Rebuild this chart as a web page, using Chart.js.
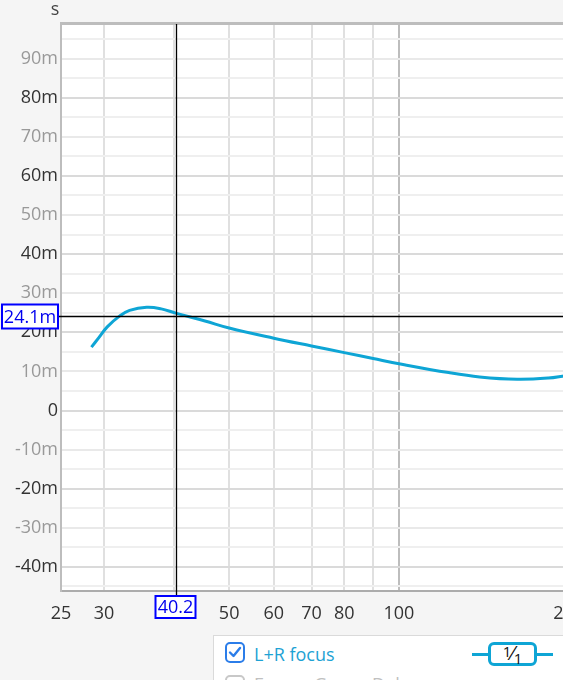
<!DOCTYPE html>
<html>
<head>
<meta charset="utf-8">
<script src="https://cdn.jsdelivr.net/npm/chart.js@4/dist/chart.umd.min.js"></script>
<style>
  html, body { margin:0; padding:0; background:#f5f5f5; overflow:hidden; width:563px; height:680px; }
  #wrap { position:absolute; left:0; top:0; width:620px; height:680px; }
  canvas { display:block; }
  .ui { position:absolute; font-family:"Open Sans","Noto Sans",sans-serif; font-size:18px; }
  #panel { left:213px; top:635px; width:420px; height:70px; background:#fff; border:1px solid #dadada; box-sizing:border-box; }
  .cb { position:absolute; width:20px; height:21px; border:2px solid #2b7de9; border-radius:5px; box-sizing:border-box; background:#fff; }
  .cb svg { position:absolute; left:1px; top:1px; }
  #badge { left:488px; top:642px; width:49px; height:24px; border:3px solid #0ea5d5; border-radius:6px; box-sizing:border-box; background:#fff; color:#111; text-align:center; line-height:16px; font-size:16px; }
  #badgeLine { left:472px; top:653px; width:81px; height:3px; background:#0ea5d5; }
</style>
</head>
<body>
<div id="wrap"><canvas id="c" width="620" height="680"></canvas></div>
<div class="ui" id="panel"></div>
<div class="cb ui" style="left:225px; top:642px;">
  <svg width="14" height="15" viewBox="0 0 14 15"><path d="M2 7.5 L5.5 11 L12 3" stroke="#2b7de9" stroke-width="2.4" fill="none" stroke-linecap="round" stroke-linejoin="round"/></svg>
</div>
<div class="ui" style="left:254px; top:641px; color:#1ea2d4; line-height:26px;">L+R focus</div>
<div class="cb ui" style="left:225px; top:675px; border-color:#c8c8c8;"></div>
<div class="ui" style="left:254px; top:671px; color:#c0c0c0; line-height:26px;">Excess Group Delay</div>
<div class="ui" id="badgeLine"></div>
<div class="ui" id="badge"><span style="position:relative; top:-3px; font-size:15px;">1</span><span style="font-size:20px;">⁄</span><span style="position:relative; top:4px; font-size:15px;">1</span></div>
<script>
// ---- data ----
const freqs  = [28.5, 29.4, 30.4, 32.0, 33.3, 35.7, 37.9, 40.2, 45.3, 50, 60, 70, 80, 90, 100.6, 122.5, 139, 162, 184, 197];
const delays = [16.2, 18.7, 21.4, 24.2, 25.6, 26.4, 26.0, 24.9, 22.9, 21.1, 18.5, 16.5, 14.8, 13.3, 11.9, 9.7, 8.6, 8.0, 8.3, 8.9];
const xTickValues = [25.17, 30, 40, 50, 60, 70, 80, 90, 100, 200];
const xTickLabels = ['25', '30', '', '50', '60', '70', '80', '', '100', '200'];
const yTickValues = [-45, -40, -35, -30, -25, -20, -15, -10, -5, 0, 5, 10, 15, 20, 25, 30, 35, 40, 45, 50, 55, 60, 65, 70, 75, 80, 85, 90, 95];
const yTickLabels = ['', '-40m', '', '-30m', '', '-20m', '', '-10m', '', '0', '', '10m', '', '20m', '', '30m', '', '40m', '', '50m', '', '60m', '', '70m', '', '80m', '', '90m', ''];
const cursorX = 40.2, cursorY = 24.1;
const cursorXLabel = '40.2', cursorYLabel = '24.1m';
const axisUnit = 's';

const FONT = '"Open Sans","Noto Sans",sans-serif';
const CURVE = '#0ea5d5';

const framePlugin = {
  id: 'frame',
  beforeDraw(chart) {
    const { ctx, chartArea: a } = chart;
    ctx.save();
    ctx.fillStyle = '#ffffff';
    ctx.fillRect(a.left, a.top, a.right - a.left, a.bottom - a.top);
    ctx.restore();
  },
  afterDraw(chart) {
    const { ctx, chartArea: a, scales } = chart;
    const xs = scales.x, ys = scales.y;
    ctx.save();
    ctx.fillStyle = '#bdbdbd';
    ctx.fillRect(a.left - 1, a.top - 2, chart.width, 3);
    ctx.fillStyle = '#444';
    ctx.font = '18px ' + FONT;
    ctx.textAlign = 'center';
    ctx.textBaseline = 'middle';
    ctx.fillText(axisUnit, 55, 10);
    const px = Math.round(xs.getPixelForValue(cursorX)) + 0.5;
    const py = Math.round(ys.getPixelForValue(cursorY)) + 0.5;
    ctx.strokeStyle = '#000';
    ctx.lineWidth = 1.3;
    ctx.beginPath();
    ctx.moveTo(px, a.top); ctx.lineTo(px, a.bottom + 5);
    ctx.moveTo(58, py); ctx.lineTo(a.right, py);
    ctx.stroke();
    ctx.font = '18px ' + FONT;
    ctx.lineWidth = 2;
    ctx.strokeStyle = '#0000ff';
    ctx.fillStyle = '#fff';
    ctx.fillRect(2, py - 12, 56, 24);
    ctx.strokeRect(2, py - 12, 56, 24);
    ctx.fillStyle = '#0000ee';
    ctx.textAlign = 'center';
    ctx.fillText(cursorYLabel, 30, py + 1);
    ctx.fillStyle = '#fff';
    ctx.fillRect(px - 21, a.bottom + 5, 40, 22);
    ctx.strokeRect(px - 21, a.bottom + 5, 40, 22);
    ctx.fillStyle = '#0000ee';
    ctx.fillText(cursorXLabel, px - 1, a.bottom + 17);
    ctx.restore();
  }
};

new Chart(document.getElementById('c'), {
  type: 'line',
  data: {
    datasets: [{
      data: freqs.map((f, i) => ({ x: f, y: delays[i] })),
      borderColor: CURVE,
      borderWidth: 3,
      pointRadius: 0,
      fill: false,
      tension: 0.4
    }]
  },
  options: {
    responsive: false,
    animation: false,
    devicePixelRatio: 1,
    layout: { padding: { top: 24, right: 10, left: 0, bottom: 0 } },
    plugins: { legend: { display: false }, tooltip: { enabled: false } },
    scales: {
      x: {
        type: 'logarithmic',
        min: 25.17, max: 236.7,
        afterBuildTicks: s => { s.ticks = xTickValues.map(v => ({ value: v })); },
        afterFit: s => { s.height = 89; },
        border: { color: '#acacac', width: 2 },
        grid: {
          drawTicks: false,
          lineWidth: 2,
          color: c => {
            const v = c.tick ? c.tick.value : 0;
            if (v < 26) return 'rgba(0,0,0,0)';
            if (v === 100) return '#bdbdbd';
            return '#e0e0e0';
          }
        },
        ticks: {
          autoSkip: false, maxRotation: 0, padding: 12,
          color: '#333',
          font: { family: FONT, size: 18 },
          callback: (v, i) => xTickLabels[i]
        }
      },
      y: {
        type: 'linear',
        min: -46.16, max: 98.85,
        afterBuildTicks: s => { s.ticks = yTickValues.map(v => ({ value: v })); },
        afterFit: s => { s.width = 61; },
        border: { color: '#bdbdbd', width: 2 },
        grid: {
          drawTicks: false,
          lineWidth: 2,
          color: c => {
            const v = c.tick ? c.tick.value : 0;
            if (v % 20 === 0) return '#dadada';
            if (v % 10 === 0) return '#e9e9e9';
            return '#efefef';
          }
        },
        ticks: {
          autoSkip: false, padding: 3,
          color: c => (c.tick && c.tick.value % 20 === 0) ? '#333' : '#999',
          font: { family: FONT, size: 18 },
          callback: (v, i) => yTickLabels[i]
        }
      }
    }
  },
  plugins: [framePlugin]
});
</script>
</body>
</html>
